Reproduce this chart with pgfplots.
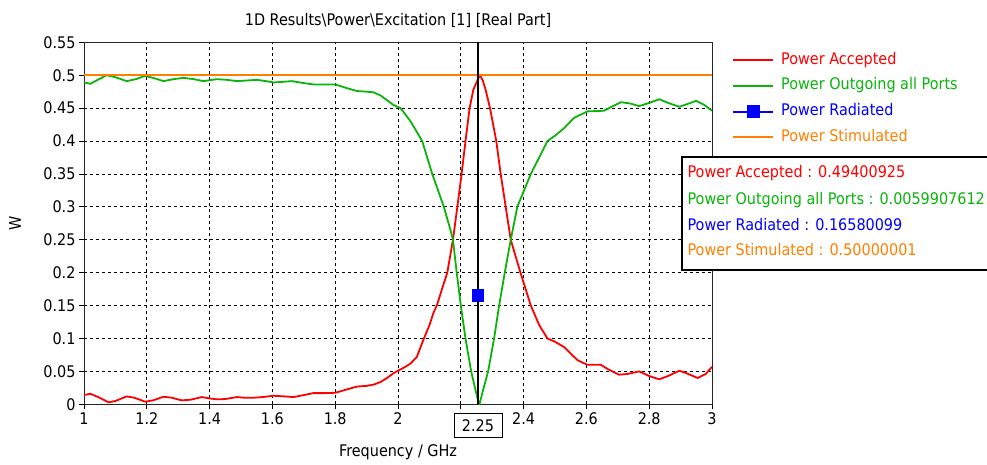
\documentclass[border=0pt]{standalone}
\usepackage{fontspec}
\setmainfont{DejaVu Sans}[FakeStretch=0.9]
\usepackage{pgfplots}
\pgfplotsset{compat=1.18}
\definecolor{cRed}{RGB}{255,0,0}
\definecolor{cGreen}{RGB}{10,180,10}
\definecolor{cBlue}{RGB}{0,0,255}
\definecolor{cOrange}{RGB}{255,128,0}
\newcommand{\fsz}{\fontsize{16pt}{19pt}\selectfont}
\begin{document}
\begin{tikzpicture}[font=\fsz]
\path[use as bounding box] (-84pt,-59.7pt) rectangle (903pt,404.3pt);
\begin{axis}[
  scale only axis, width=628pt, height=362pt,
  clip mode=individual,
  xmin=1, xmax=3, ymin=0, ymax=0.55,
  xtick={1,1.2,1.4,1.6,1.8,2,2.2,2.4,2.6,2.8,3},
  xticklabels={1,1.2,1.4,1.6,1.8,2,,2.4,2.6,2.8,3},
  ytick={0,0.05,0.1,0.15,0.2,0.25,0.3,0.35,0.4,0.45,0.5,0.55},
  scaled y ticks=false, scaled x ticks=false,
  yticklabel style={/pgf/number format/fixed,/pgf/number format/precision=2},
  /pgf/number format/assume math mode=true,
  tick label style={font=\fsz},
  tick align=outside, tick pos=left, major tick length=5pt,
  major tick style={black, line width=0.8pt},
  axis line style={black!85, line width=0.9pt},
  grid=major, major grid style={black, line width=0.8pt, dash pattern=on 3pt off 3pt},
  title={1D Results\textbackslash Power\textbackslash Excitation [1] [Real Part]},
  title style={at={(axis description cs:0.5,1.0442)}, anchor=center, font=\fsz},
  xlabel={Frequency / GHz},
  xlabel style={at={(axis description cs:0.5,-0.1326)}, anchor=center, font=\fsz},
  ylabel={W},
  ylabel style={at={(axis description cs:-0.1099,0.5)}, anchor=center, font=\fsz},
  legend cell align=left,
  legend image code/.code={%
    \draw[#1] (0pt,0pt) -- (40pt,0pt);
    \draw[#1, only marks] plot coordinates {(20pt,0pt)};},
  legend style={draw=none, fill=none, at={(1,1)}, anchor=north west, xshift=20pt, yshift=-9.7pt,
    inner sep=0pt, row sep=9.7pt, font=\fsz,
    nodes={inner sep=0pt, text height=12pt, text depth=4pt},
    /tikz/every odd column/.append style={column sep=7pt}},
]
\addplot[cRed, line width=1.8pt] coordinates {
(1.000,0.014) (1.020,0.016) (1.050,0.010) (1.078,0.003) (1.100,0.005) (1.136,0.012)
(1.160,0.010) (1.195,0.004) (1.220,0.006) (1.253,0.0115) (1.280,0.010) (1.311,0.006)
(1.340,0.007) (1.375,0.011) (1.400,0.009) (1.423,0.0075) (1.450,0.008) (1.487,0.011)
(1.510,0.010) (1.540,0.010) (1.570,0.011) (1.603,0.013) (1.640,0.012) (1.667,0.011)
(1.700,0.014) (1.730,0.017) (1.770,0.017) (1.800,0.0175) (1.840,0.023) (1.870,0.027)
(1.900,0.028) (1.923,0.030) (1.945,0.034) (1.965,0.040) (1.985,0.047) (2.000,0.051)
(2.020,0.056) (2.040,0.062) (2.060,0.072) (2.080,0.097) (2.100,0.120) (2.113,0.139)
(2.125,0.152) (2.140,0.175) (2.157,0.200) (2.175,0.250) (2.189,0.300) (2.2025,0.350)
(2.215,0.400) (2.228,0.450) (2.240,0.478) (2.2546,0.494) (2.261,0.500) (2.270,0.492)
(2.279,0.478) (2.293,0.450) (2.313,0.400) (2.327,0.350) (2.343,0.300) (2.359,0.250)
(2.390,0.200) (2.423,0.150) (2.450,0.120) (2.476,0.100) (2.500,0.095) (2.529,0.087)
(2.550,0.077) (2.572,0.067) (2.603,0.060) (2.646,0.060) (2.670,0.053) (2.704,0.045)
(2.730,0.046) (2.768,0.050) (2.800,0.043) (2.832,0.038) (2.860,0.043) (2.896,0.051)
(2.920,0.047) (2.954,0.040) (2.980,0.046) (3.000,0.057)
};
\addlegendentry{\textcolor{cRed}{Power Accepted}}
\addplot[cGreen, line width=1.8pt] coordinates {
(1.000,0.489) (1.020,0.487) (1.040,0.492) (1.072,0.500) (1.100,0.497) (1.136,0.491)
(1.165,0.494) (1.194,0.499) (1.220,0.496) (1.253,0.491) (1.285,0.494) (1.317,0.496)
(1.350,0.494) (1.380,0.491) (1.423,0.494) (1.455,0.493) (1.487,0.491) (1.520,0.492)
(1.550,0.493) (1.580,0.491) (1.604,0.489) (1.635,0.490) (1.662,0.491) (1.700,0.488)
(1.731,0.486) (1.770,0.486) (1.800,0.486) (1.840,0.480) (1.869,0.476) (1.900,0.475)
(1.922,0.474) (1.945,0.469) (1.965,0.462) (1.985,0.455) (2.008,0.450) (2.040,0.430)
(2.077,0.400) (2.109,0.350) (2.146,0.300) (2.167,0.265) (2.175,0.250) (2.187,0.200)
(2.200,0.150) (2.215,0.100) (2.233,0.050) (2.2546,0.006) (2.260,0.001) (2.270,0.020)
(2.287,0.050) (2.306,0.100) (2.322,0.150) (2.340,0.200) (2.359,0.250) (2.380,0.300)
(2.423,0.350) (2.476,0.400) (2.500,0.408) (2.530,0.420) (2.560,0.435) (2.603,0.445)
(2.656,0.446) (2.680,0.452) (2.710,0.459) (2.740,0.457) (2.768,0.453) (2.800,0.458)
(2.832,0.4635) (2.860,0.458) (2.896,0.452) (2.920,0.456) (2.949,0.461) (2.975,0.455)
(3.000,0.446)
};
\addlegendentry{\textcolor{cGreen}{Power Outgoing all Ports}}
\addplot[cBlue, line width=1.8pt, mark=square*, mark size=5.5pt, mark options={solid}] coordinates {(2.2546,0.16580099)};
\addlegendentry{\textcolor{cBlue}{Power Radiated}}
\addplot[cOrange, line width=2pt] coordinates {(1,0.50000001) (3,0.50000001)};
\addlegendentry{\textcolor{cOrange}{Power Stimulated}}
\addplot[black, line width=2.6pt, forget plot] coordinates {(2.2546,0) (2.2546,0.55)};
\addplot[cBlue, only marks, mark=square*, mark size=5.5pt, forget plot] coordinates {(2.2546,0.16580099)};
\node[draw=black, line width=0.8pt, fill=white, minimum width=48pt, minimum height=24pt, inner sep=1pt, yshift=-21pt] at (axis cs:2.2546,0) {2.25};
\end{axis}
\draw[line width=2pt, fill=white] (598pt,134.3pt) rectangle (912pt,247.3pt);
\node[anchor=west, inner sep=0pt, text=cRed] at (603.3pt,231pt) {Power Accepted : 0.49400925};
\node[anchor=west, inner sep=0pt, text=cGreen] at (603.3pt,204.3pt) {Power Outgoing all Ports : 0.0059907612};
\node[anchor=west, inner sep=0pt, text=cBlue] at (603.3pt,179.3pt) {Power Radiated : 0.16580099};
\node[anchor=west, inner sep=0pt, text=cOrange] at (603.3pt,154.3pt) {Power Stimulated : 0.50000001};
\end{tikzpicture}
\end{document}
